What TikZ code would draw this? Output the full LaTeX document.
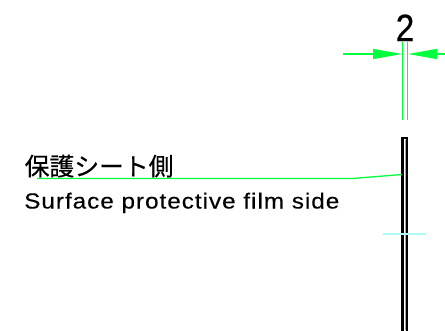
\documentclass[tikz,border=0pt]{standalone}
\usepackage{fontspec}
\setmainfont{Liberation Sans}
\newfontfamily\cjk[FakeBold=0.4]{Noto Sans CJK JP}
\newfontfamily\enfont[LetterSpace=4,FakeBold=0.2]{Liberation Sans}
\newfontfamily\dimfont[FakeBold=0.5]{Liberation Sans}
\usetikzlibrary{arrows.meta}
\definecolor{dimgreen}{RGB}{0,255,60}
\definecolor{centercyan}{RGB}{170,250,250}
\tikzset{
  dimline/.style={draw=dimgreen,line width=1.3pt},
  dimarrow/.style={dimline,-{Triangle[length=29pt,width=10pt,fill=dimgreen]}},
  label/.style={inner sep=0pt,anchor=base west,text=black}
}
\begin{document}
\begin{tikzpicture}[x=1pt,y=-1pt]
\useasboundingbox[fill=white] (0,0) rectangle (445,330);
% film section
\draw[black,line width=2.5pt,fill=white] (402.3,331.5) -- (402.3,138.2) -- (406.9,138.2) -- (406.9,331.5);
\fill[black!35] (405,139.5) rectangle (405.7,330);
% centre line
\coordinate (cl) at (383,234);
\coordinate (cr) at (426,234);
\draw[centercyan,line width=1.2pt] (cl) -- (cr);
% dimension
\coordinate (el1) at (402.5,42);
\coordinate (el2) at (402.5,120);
\coordinate (er1) at (407.5,42);
\coordinate (er2) at (407.5,120);
\draw[dimline] (el1) -- (el2);
\draw[dimline] (er1) -- (er2);
\coordinate (al) at (343,54);
\coordinate (ali) at (402,54);
\coordinate (ar) at (445,54);
\coordinate (ari) at (408,54);
\draw[dimarrow] (al) -- (ali);
\draw[dimarrow] (ar) -- (ari);
\node[label,font=\dimfont\fontsize{38}{38}\selectfont,anchor=base,xscale=.88] (dim) at (405,41) {2};
% leader
\node[label,font=\cjk\fontsize{24.8}{25}\selectfont] (jp) at (24.5,175.5) {保護シート側};
\node[label,font=\enfont\fontsize{21.8}{22}\selectfont,xscale=1.115] (en) at (24,208.5) {Surface protective film side};
\coordinate (l0) at (37,178.5);
\coordinate (l1) at (352,178.5);
\coordinate (l2) at (402,174.5);
\draw[dimline] (l0) -- (l1) -- (l2);
\end{tikzpicture}
\end{document}
